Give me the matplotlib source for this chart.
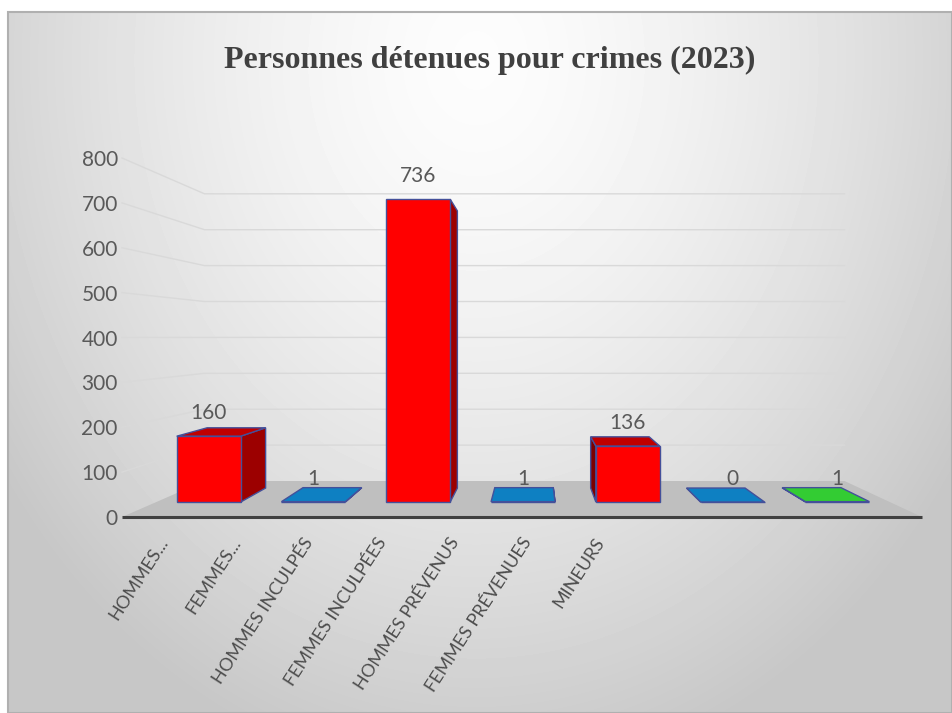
import numpy as np
import matplotlib.pyplot as plt
from matplotlib.patches import Polygon, Rectangle

# data
categories = ['HOMMES...', 'FEMMES...', 'HOMMES INCULPÉS', 'FEMMES INCULPÉES',
              'HOMMES PRÉVENUS', 'FEMMES PRÉVENUES', 'MINEURS']
values = [160, 1, 736, 1, 136, 0, 1]
bar_kinds = ['red', 'blue', 'red', 'blue', 'red', 'blue', 'green']
y_ticks = [0, 100, 200, 300, 400, 500, 600, 700, 800]
title = 'Personnes détenues pour crimes (2023)'

# front, top, right side, left side
palette = {
    'red': ('#ff0000', '#c00000', '#9c0000', '#7c0000'),
    'blue': ('#0e80c2', '#0e80c2', '#0a5f91', '#0a5f91'),
    'green': ('#33cc33', '#33cc33', '#249024', '#249024'),
}
edge = '#44509a'
text_grey = '#595959'

# fake 3d: perspective toward a vanishing point, in data units of the front plane
VP = (3.11, 401.0)
S_WALL = 0.80
S_BAR0, S_BAR1 = 0.917, 0.839
HALF = 0.305


def proj(x, v, s):
    return (VP[0] + s * (x - VP[0]), VP[1] + s * (v - VP[1]))


W, H = 952, 713
fig = plt.figure(figsize=(W / 100, H / 100), dpi=100)

# background panel with a soft radial shade
bg = fig.add_axes([0, 0, 1, 1])
bg.set_xlim(0, W)
bg.set_ylim(H, 0)
bg.axis('off')
x0, y0 = 8, 12
xx, yy = np.meshgrid(np.arange(x0, W), np.arange(y0, H))
r = np.hypot((xx - 476) / 560, (yy - 60) / 700)
shade = np.clip(0.99 - 0.2 * r ** 1.5, 0.78, 1.0)
bg.imshow(shade, cmap='gray', vmin=0, vmax=1, extent=(x0, W, H, y0),
          aspect='auto', interpolation='bilinear')
bg.add_patch(Rectangle((x0, y0), W - x0, H - y0, fill=False,
                       ec='#b0b0b0', lw=1.5))
bg.text(490, 68, title, ha='center', va='baseline', fontsize=23,
        fontfamily='Liberation Serif', fontweight='bold', color='#404040')

ax = fig.add_axes([122 / W, (H - 517) / H, 800 / W, 359 / H])
ax.set_xlim(-0.5, 6.5)
ax.set_ylim(0, 800)
ax.patch.set_visible(False)
for sp in ax.spines.values():
    sp.set_visible(False)

n = len(values)
left, right = -0.5, n - 0.5

# floor
floor = [proj(left, 0, 1), proj(right, 0, 1),
         proj(right, 0, S_WALL), proj(left, 0, S_WALL)]
ax.add_patch(Polygon(floor, closed=True, fc='#bfbfbf', ec='none',
                     zorder=1, clip_on=False))

# grid on side wall and back wall
for t in y_ticks[1:]:
    a, b, c = proj(left, t, 1), proj(left, t, S_WALL), proj(right, t, S_WALL)
    ax.plot([a[0], b[0], c[0]], [a[1], b[1], c[1]], color='#d9d9d9',
            lw=1.0, zorder=0.5, clip_on=False)

# front edge of the floor
ax.plot([left, right], [0, 0], color='#404040', lw=2.2,
        solid_capstyle='butt', zorder=2, clip_on=False)

# bars
for i, (v, kind) in enumerate(zip(values, bar_kinds)):
    c_front, c_top, c_right, c_left = palette[kind]
    xl, xr = i - HALF, i + HALF
    if i < VP[0]:
        sx, c_side = xr, c_right
    else:
        sx, c_side = xl, c_left
    side = [proj(sx, 0, S_BAR0), proj(sx, v, S_BAR0),
            proj(sx, v, S_BAR1), proj(sx, 0, S_BAR1)]
    top = [proj(xl, v, S_BAR0), proj(xr, v, S_BAR0),
           proj(xr, v, S_BAR1), proj(xl, v, S_BAR1)]
    front = [proj(xl, 0, S_BAR0), proj(xr, 0, S_BAR0),
             proj(xr, v, S_BAR0), proj(xl, v, S_BAR0)]
    z = 3 + i * 0.1
    ax.add_patch(Polygon(side, closed=True, fc=c_side, ec=edge, lw=1.0,
                         zorder=z, clip_on=False))
    if v < VP[1]:
        ax.add_patch(Polygon(top, closed=True, fc=c_top, ec=edge, lw=1.0,
                             zorder=z + 0.01, clip_on=False))
    ax.add_patch(Polygon(front, closed=True, fc=c_front, ec=edge, lw=1.0,
                         zorder=z + 0.02, clip_on=False))
    ax.annotate(str(v), xy=proj(i, v, S_BAR0), xytext=(0, 17),
                textcoords='offset pixels', ha='center', va='baseline',
                fontsize=15, fontfamily='Lato', color=text_grey, zorder=10)

# axis labels
ax.set_yticks(y_ticks)
ax.tick_params(axis='y', length=0, pad=3, labelsize=15, labelcolor=text_grey)
label_pos = -0.13 + 0.637 * np.arange(n)
ax.set_xticks(label_pos)
ax.set_xticklabels(categories, rotation=57, ha='right', va='center',
                   rotation_mode='anchor', fontsize=13, color='#4d4d4d')
ax.tick_params(axis='x', length=0, pad=16)
for lab in ax.get_xticklabels() + ax.get_yticklabels():
    lab.set_fontfamily('Lato')

fig.savefig('out.png', dpi=100)
